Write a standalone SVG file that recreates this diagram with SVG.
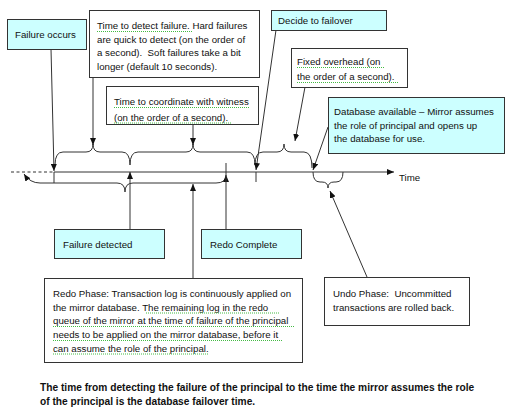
<svg xmlns="http://www.w3.org/2000/svg" width="515" height="413" viewBox="0 0 515 413">
<style>
text{font-family:"Liberation Sans",Arial,sans-serif;font-size:9.7px;fill:#111}
.b{font-weight:bold;font-size:10.2px}
.box{stroke:#333;stroke-width:1;fill:#fff}
.cy{fill:#ccffff}
.ln{stroke:#333;stroke-width:1;fill:none}
.ar{marker-end:url(#ah)}
.sq{stroke:#4b4;stroke-width:1;stroke-dasharray:1 1;fill:none}
</style>
<defs>
<marker id="ah" viewBox="0 0 7 6" refX="7" refY="3" markerWidth="7" markerHeight="6" markerUnits="userSpaceOnUse" orient="auto-start-reverse">
<path d="M0,0 L7,3 L0,6 z" fill="#111"/>
</marker>
</defs>
<rect width="515" height="413" fill="#fff"/>

<g id="connectors">
<line class="ln" x1="11" y1="172" x2="54" y2="172" stroke-dasharray="3 2.5"/>
<line class="ln ar" x1="54" y1="172" x2="394" y2="172"/>
<path class="ln" d="M55,165 Q55,152 63,152 L86,152 Q93,152 93,144 Q93,152 100,152 L122,152 Q130,152 130,165"/>
<path class="ln" d="M130,165 Q130,152 138,152 L186,152 Q193,152 193,144 Q193,152 200,152 L247,152 Q255,152 255,165"/>
<path class="ln" d="M255,165 Q255,152 263,152 L277,152 Q284,152 284,144 Q284,152 291,152 L304,152 Q312,152 312,168"/>
<path class="ln" d="M313,172 Q313,182 320,182 L322,182 Q328,182 328,188 Q328,182 334,182 L336,182 Q343,182 343,172"/>
<path class="ln" d="M24,174 Q30,183 40,183 L117,183 Q125,183 125,192 Q125,183 133,183 L216,183 Q226,183 226,175" marker-start="url(#ah)" marker-end="url(#ah)"/>
<line class="ln ar" x1="51" y1="49" x2="54" y2="171"/>
<line class="ln" x1="54" y1="172" x2="54" y2="183"/>
<line class="ln ar" x1="93" y1="77" x2="93" y2="145"/>
<line class="ln ar" x1="193" y1="124" x2="193" y2="145"/>
<line class="ln ar" x1="276" y1="30" x2="256" y2="170"/>
<line class="ln" x1="256" y1="172" x2="256" y2="182"/>
<line class="ln ar" x1="305" y1="87" x2="295" y2="141"/>
<line class="ln ar" x1="328" y1="127" x2="313" y2="170"/>
<line class="ln ar" x1="130" y1="229" x2="130" y2="172"/>
<line class="ln" x1="226" y1="229" x2="226" y2="163"/>
<line class="ln ar" x1="193" y1="278" x2="193" y2="184"/>
<line class="ln ar" x1="367" y1="277" x2="330" y2="191"/>
</g>

<g id="failure-occurs">
<rect class="box cy" x="7.5" y="19.5" width="79" height="30"/>
<text x="15" y="38">Failure occurs</text>
</g>

<g id="detect">
<rect class="box" x="89.5" y="10.5" width="170" height="67"/>
<text x="97" y="29">Time to detect failure. Hard failures</text>
<text x="97" y="42.5">are quick to detect (on the order of</text>
<text x="97" y="56" xml:space="preserve">a second).  Soft failures take a bit</text>
<text x="97" y="69.5">longer (default 10 seconds).</text>
<line class="sq" x1="97" y1="31.5" x2="192" y2="31.5"/>
</g>

<g id="coordinate">
<rect class="box" x="106.5" y="86.5" width="152" height="38"/>
<text x="114" y="105">Time to coordinate with witness</text>
<text x="114" y="120.5">(on the order of a second).</text>
<line class="sq" x1="114" y1="107.5" x2="249" y2="107.5"/>
<line class="sq" x1="114" y1="123" x2="231" y2="123"/>
</g>

<g id="decide">
<rect class="box cy" x="271.5" y="10.5" width="115" height="20"/>
<text x="278" y="24">Decide to failover</text>
</g>

<g id="fixed">
<rect class="box" x="291.5" y="48.5" width="116" height="39"/>
<text x="297" y="65">Fixed overhead (on</text>
<text x="297" y="80">the order of a second).</text>
<line class="sq" x1="297" y1="67.5" x2="385" y2="67.5"/>
<line class="sq" x1="297" y1="82.5" x2="399" y2="82.5"/>
</g>

<g id="db-available">
<rect class="box cy" x="328.5" y="97.5" width="176" height="56"/>
<text x="334" y="115">Database available – Mirror assumes</text>
<text x="334" y="128.5">the role of principal and opens up</text>
<text x="334" y="142">the database for use.</text>
</g>

<g id="time">
<text x="399" y="181">Time</text>
</g>

<g id="failure-detected">
<rect class="box cy" x="54.5" y="229.5" width="110" height="29"/>
<text x="63" y="248">Failure detected</text>
</g>

<g id="redo-complete">
<rect class="box cy" x="201.5" y="229.5" width="100" height="29"/>
<text x="210" y="248">Redo Complete</text>
</g>

<g id="redo-phase">
<rect class="box" x="44.5" y="278.5" width="258" height="84"/>
<text x="53" y="296.5">Redo Phase: Transaction log is continuously applied on</text>
<text x="53" y="310.5">the mirror database. The remaining log in the redo</text>
<text x="53" y="324">queue of the mirror at the time of failure of the principal</text>
<text x="53" y="338">needs to be applied on the mirror database, before it</text>
<text x="53" y="351.5">can assume the role of the principal.</text>
<line class="sq" x1="146" y1="313" x2="280" y2="313"/>
<line class="sq" x1="53" y1="326.5" x2="295" y2="326.5"/>
<line class="sq" x1="53" y1="340.5" x2="282" y2="340.5"/>
<line class="sq" x1="53" y1="354" x2="209" y2="354"/>
</g>

<g id="undo-phase">
<rect class="box" x="324.5" y="277.5" width="145" height="48"/>
<text x="333" y="296.5" xml:space="preserve">Undo Phase:  Uncommitted</text>
<text x="333" y="310.5">transactions are rolled back.</text>
</g>

<g id="caption">
<text class="b" x="40" y="391">The time from detecting the failure of the principal to the time the mirror assumes the role</text>
<text class="b" x="40" y="405">of the principal is the database failover time.</text>
</g>
</svg>
